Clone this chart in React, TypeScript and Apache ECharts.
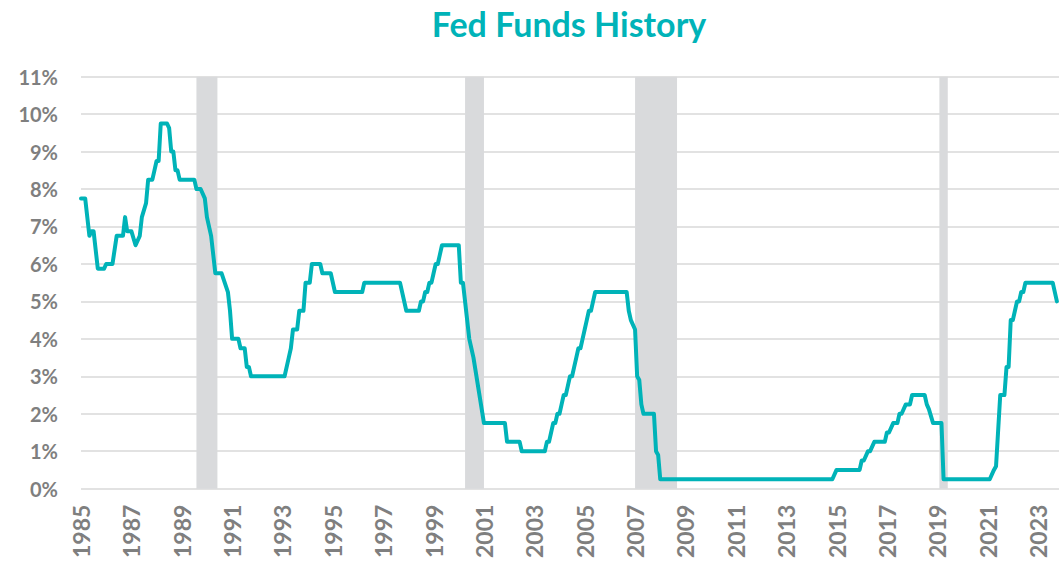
import React, { useEffect, useRef } from "react";
import * as echarts from "echarts";

const chartTitle = "Fed Funds History";

const dates = [
  "1985-01", "1985-03", "1985-05", "1985-06", "1985-07", "1985-09", "1985-12", "1986-01", "1986-04", "1986-06",
  "1986-09", "1986-10", "1986-11", "1987-01", "1987-03", "1987-05", "1987-06", "1987-08", "1987-09", "1987-11",
  "1987-12", "1988-01", "1988-02", "1988-03", "1988-06", "1988-07", "1988-08", "1988-09", "1988-10", "1988-11",
  "1988-12", "1989-07", "1989-08", "1989-10", "1989-12", "1990-01", "1990-03", "1990-04", "1990-05", "1990-08",
  "1990-11", "1990-12", "1991-01", "1991-04", "1991-05", "1991-07", "1991-08", "1991-09", "1991-10", "1993-02",
  "1993-04", "1993-05", "1993-06", "1993-08", "1993-09", "1993-11", "1993-12", "1994-02", "1994-03", "1994-07",
  "1994-08", "1994-12", "1995-02", "1996-03", "1996-04", "1997-09", "1997-12", "1998-06", "1998-07", "1998-08",
  "1998-09", "1998-10", "1998-11", "1998-12", "1999-01", "1999-02", "1999-03", "1999-04", "1999-05", "2000-01",
  "2000-02", "2000-03", "2000-06", "2000-07", "2000-08", "2001-01", "2001-11", "2001-12", "2002-06", "2002-07",
  "2003-06", "2003-07", "2003-08", "2003-09", "2003-10", "2003-11", "2003-12", "2004-01", "2004-02", "2004-03",
  "2004-04", "2004-05", "2004-06", "2004-07", "2004-08", "2004-09", "2004-10", "2004-11", "2004-12", "2005-01",
  "2005-02", "2005-03", "2005-04", "2005-05", "2005-06", "2006-09", "2006-10", "2006-11", "2007-01", "2007-02",
  "2007-03", "2007-04", "2007-05", "2007-10", "2007-11", "2007-12", "2008-01", "2014-11", "2015-01", "2015-12",
  "2016-01", "2016-02", "2016-04", "2016-05", "2016-07", "2016-12", "2017-01", "2017-02", "2017-04", "2017-06",
  "2017-07", "2017-08", "2017-10", "2017-12", "2018-01", "2018-07", "2018-08", "2018-09", "2018-11", "2019-03",
  "2019-04", "2021-02", "2021-04", "2021-05", "2021-07", "2021-09", "2021-10", "2021-11", "2021-12", "2022-01",
  "2022-02", "2022-03", "2022-04", "2022-05", "2022-06", "2022-07", "2023-08", "2023-10"
];

const rates = [
  7.75, 7.75, 6.75, 6.875, 6.875, 5.875, 5.875, 6.0, 6.0, 6.75,
  6.75, 7.25, 6.875, 6.875, 6.5, 6.75, 7.25, 7.625, 8.25, 8.25,
  8.5, 8.75, 8.75, 9.75, 9.75, 9.625, 9.0, 9.0, 8.5, 8.5,
  8.25, 8.25, 8.0, 8.0, 7.75, 7.25, 6.75, 6.25, 5.75, 5.75,
  5.25, 4.75, 4.0, 4.0, 3.75, 3.75, 3.25, 3.25, 3.0, 3.0,
  3.5, 3.75, 4.25, 4.25, 4.75, 4.75, 5.5, 5.5, 6.0, 6.0,
  5.75, 5.75, 5.25, 5.25, 5.5, 5.5, 4.75, 4.75, 5.0, 5.0,
  5.25, 5.25, 5.5, 5.5, 5.75, 6.0, 6.0, 6.25, 6.5, 6.5,
  5.5, 5.5, 4.0, 3.75, 3.5, 1.75, 1.75, 1.25, 1.25, 1.0,
  1.0, 1.25, 1.25, 1.5, 1.75, 1.75, 2.0, 2.0, 2.25, 2.5,
  2.5, 2.75, 3.0, 3.0, 3.25, 3.5, 3.75, 3.75, 4.0, 4.25,
  4.5, 4.75, 4.75, 5.0, 5.25, 5.25, 4.75, 4.5, 4.25, 3.0,
  2.9, 2.25, 2.0, 2.0, 1.0, 0.9, 0.25, 0.25, 0.5, 0.5,
  0.75, 0.75, 1.0, 1.0, 1.25, 1.25, 1.5, 1.5, 1.75, 1.75,
  2.0, 2.0, 2.25, 2.25, 2.5, 2.5, 2.25, 2.125, 1.75, 1.75,
  0.25, 0.25, 0.5, 0.6, 2.5, 2.5, 3.25, 3.25, 4.5, 4.5,
  4.75, 5.0, 5.0, 5.25, 5.25, 5.5, 5.5, 5.0
];

const recessionStarts = ["1989-08", "2000-04", "2007-01", "2019-02"];
const recessionEnds = ["1990-06", "2001-01", "2008-09", "2019-06"];

const firstYear = 1985;
const lastMonthIndex = 466;
const yMin = 0;
const yMax = 11;

const monthIndex = (d: string) => {
  const [y, m] = d.split("-").map(Number);
  return (y - firstYear) * 12 + (m - 1);
};

const TEAL = "#00B3B8";
const GREY = "#7F7F7F";

export default function App() {
  const ref = useRef<HTMLDivElement>(null);
  useEffect(() => {
    if (!ref.current) return;
    const chart = echarts.init(ref.current, undefined, { renderer: "svg" });
    const seriesData = dates.map((d, i) => [monthIndex(d), rates[i]]);
    const areas = recessionStarts.map((s, i) => [
      { xAxis: monthIndex(s) },
      { xAxis: monthIndex(recessionEnds[i]) },
    ]);
    chart.setOption({
      animation: false,
      backgroundColor: "#ffffff",
      title: {
        text: chartTitle,
        left: 564,
        top: 1,
        textAlign: "center",
        textStyle: {
          fontFamily: "Lato",
          fontWeight: "bold",
          fontSize: 34,
          color: TEAL,
        },
      },
      grid: { left: 81, right: 0, top: 76.7, bottom: 70.3, containLabel: false },
      xAxis: {
        type: "value",
        min: 0,
        max: lastMonthIndex,
        interval: 24,
        axisLine: { show: false },
        axisTick: { show: false },
        splitLine: { show: false },
        axisLabel: {
          rotate: 90,
          margin: 16,
          showMaxLabel: false,
          fontFamily: "Lato",
          fontWeight: "bold",
          fontSize: 23,
          color: GREY,
          formatter: (v: number) => String(firstYear + Math.round(v / 12)),
        },
      },
      yAxis: {
        type: "value",
        min: yMin,
        max: yMax,
        interval: 1,
        axisLine: { show: false },
        axisTick: { show: false },
        splitLine: { lineStyle: { color: "#D9D9D9", width: 1.5 } },
        axisLabel: {
          margin: 23,
          fontFamily: "Lato",
          fontWeight: "bold",
          fontSize: 20,
          color: GREY,
          formatter: "{value}%",
        },
      },
      series: [
        {
          type: "line",
          data: seriesData,
          showSymbol: false,
          symbol: "none",
          lineStyle: { color: TEAL, width: 4, join: "round", cap: "round" },
          markArea: {
            silent: true,
            itemStyle: { color: "#D9DADC" },
            data: areas,
          },
        },
      ],
    });
    return () => chart.dispose();
  }, []);
  return (
    <div
      ref={ref}
      style={{ position: "fixed", left: 0, top: 0, width: 1059, height: 561, background: "#fff" }}
    />
  );
}
